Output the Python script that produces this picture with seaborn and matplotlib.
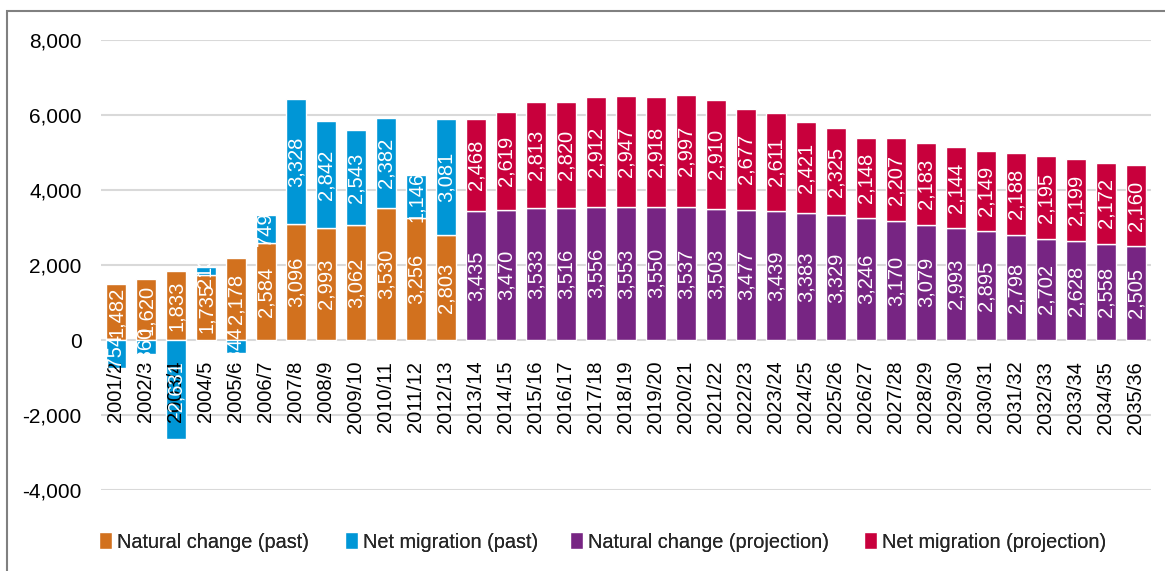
import pandas as pd
import matplotlib.pyplot as plt
import seaborn as sns
from matplotlib.patches import Rectangle
from matplotlib.ticker import FuncFormatter

years = ['2001/2', '2002/3', '2003/4', '2004/5', '2005/6', '2006/7', '2007/8', '2008/9',
         '2009/10', '2010/11', '2011/12', '2012/13', '2013/14', '2014/15', '2015/16',
         '2016/17', '2017/18', '2018/19', '2019/20', '2020/21', '2021/22', '2022/23',
         '2023/24', '2024/25', '2025/26', '2026/27', '2027/28', '2028/29', '2029/30',
         '2030/31', '2031/32', '2032/33', '2033/34', '2034/35', '2035/36']
past_years = years[:12]
proj_years = years[12:]

natural_past = [1482, 1620, 1833, 1735, 2178, 2584, 3096, 2993, 3062, 3530, 3256, 2803]
migration_past = [-754, -360, -2631, 213, -344, 749, 3328, 2842, 2543, 2382, 1146, 3081]
natural_proj = [3435, 3470, 3533, 3516, 3556, 3553, 3550, 3537, 3503, 3477, 3439, 3383,
                3329, 3246, 3170, 3079, 2993, 2895, 2798, 2702, 2628, 2558, 2505]
migration_proj = [2468, 2619, 2813, 2820, 2912, 2947, 2918, 2997, 2910, 2677, 2611, 2421,
                  2325, 2148, 2207, 2183, 2144, 2149, 2188, 2195, 2199, 2172, 2160]

c_nat_past = '#D2711E'
c_mig_past = '#0096D6'
c_nat_proj = '#772583'
c_mig_proj = '#C8003C'

sns.set_style('white')
plt.rcParams['font.family'] = ['Liberation Sans', 'DejaVu Sans']
narrow = ['Liberation Sans Narrow', 'Liberation Sans', 'DejaVu Sans']

fig = plt.figure(figsize=(11.65, 5.71), dpi=100)
ax = fig.add_axes([101 / 1165, 1 - 490 / 571, 1050 / 1165, 450 / 571])

w = 0.67
mig_past_bottom = [n if m > 0 else 0 for n, m in zip(natural_past, migration_past)]
mig_proj_bottom = natural_proj

sns.barplot(x=past_years, y=natural_past, order=years, color=c_nat_past, width=w,
            saturation=1, ax=ax, label='Natural change (past)')
sns.barplot(x=past_years, y=migration_past, order=years, color=c_mig_past, width=w,
            saturation=1, bottom=mig_past_bottom, ax=ax, label='Net migration (past)')
sns.barplot(x=proj_years, y=natural_proj, order=years, color=c_nat_proj, width=w,
            saturation=1, ax=ax, label='Natural change (projection)')
sns.barplot(x=proj_years, y=migration_proj, order=years, color=c_mig_proj, width=w,
            saturation=1, bottom=mig_proj_bottom, ax=ax, label='Net migration (projection)')

# value labels
def put_labels(ylist, vals, bottoms):
    for y, v, b in zip(ylist, vals, bottoms):
        i = years.index(y)
        ax.text(i, b + v / 2, f'{v:,}', rotation=90, ha='center', va='center',
                color='white', fontsize=14.5, family=narrow, zorder=5)

put_labels(past_years, natural_past, [0] * 12)
put_labels(past_years, migration_past, mig_past_bottom)
put_labels(proj_years, natural_proj, [0] * 23)
put_labels(proj_years, migration_proj, mig_proj_bottom)

ax.set_ylim(-4000, 8000)
ax.set_xlim(-0.5, len(years) - 0.5)
ax.set_yticks(range(-4000, 8001, 2000))
ax.yaxis.set_major_formatter(FuncFormatter(lambda v, p: f'{int(v):,}'))
ax.grid(axis='y', color='#D9D9D9', linewidth=1.5)
ax.set_axisbelow(True)
for s in ['top', 'right', 'left']:
    ax.spines[s].set_visible(False)
ax.spines['bottom'].set_position(('data', 0))
ax.spines['bottom'].set_visible(False)
ax.tick_params(axis='x', length=0, rotation=90, pad=15, colors='black')
for t in ax.get_xticklabels():
    t.set_family(narrow)
    t.set_fontsize(14.5)
ax.xaxis.set_zorder(3)
ax.tick_params(axis='y', length=0, labelsize=15, pad=14, colors='black')
ax.set_xlabel('')
ax.set_ylabel('')
if ax.get_legend():
    ax.get_legend().remove()

handles, labels = ax.get_legend_handles_labels()
leg_x = [99, 345, 570, 864]
for h, l, x in zip(handles, labels, leg_x):
    lg = fig.legend([h], [l], loc='center left', bbox_to_anchor=(x / 1165, 1 - 542 / 571),
                    frameon=False, fontsize=14.3, handlelength=0.65, handleheight=0.95,
                    handletextpad=0.25, borderaxespad=0, borderpad=0)
    fig.add_artist(lg)

fig.patches.append(Rectangle((7 / 1165, -0.1), 1.2, 1 - 11 / 571 + 0.1, transform=fig.transFigure,
                             fill=False, edgecolor='#808080', linewidth=1.5))

plt.savefig('out.png', dpi=100)
